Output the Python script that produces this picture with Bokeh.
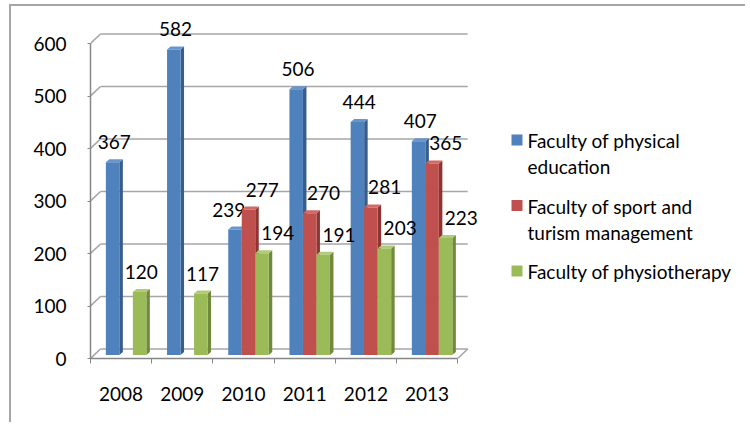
from bokeh.plotting import figure
from bokeh.models import FixedTicker, ColumnDataSource, Range1d
from bokeh.core.properties import value
from bokeh.embed import file_html
from bokeh.resources import INLINE

# ---------------- data ----------------
years = ["2008", "2009", "2010", "2011", "2012", "2013"]
physical_education = [367, 582, 239, 506, 444, 407]
sport_turism = [None, None, 277, 270, 281, 365]
physiotherapy = [120, 117, 194, 191, 203, 223]
y_ticks = [0, 100, 200, 300, 400, 500, 600]
series_labels = ["Faculty of physical\neducation",
                 "Faculty of sport and\nturism management",
                 "Faculty of physiotherapy"]

# ---------------- styles ----------------
front_colors = ["#4F81BD", "#C0504D", "#9BBB59"]
side_colors = ["#375D8C", "#8E3533", "#6F8A3C"]
top_colors = ["#6A95CB", "#D06A66", "#B0CB78"]
FONT = "Lato"
FS = "19px"

OX, OY = 11, 6                 # page position of figure content
W, H = 736, 418
AXIS_X, AXIS_Y = 90, 358        # page position of the value-0 / first category corner
LEFT = AXIS_X - OX
BOTTOM = OY + H - AXIS_Y
TOP = 6
frame_w = W - LEFT
frame_h = H - TOP - BOTTOM
PX_X = 61.2     # pixels per category
PX_Y = 0.525    # pixels per value unit


def ux(px):
    return px / PX_X


def uy(px):
    return px / PX_Y


def page_x(px):
    return (px - AXIS_X) / PX_X


def page_y(py):
    return (AXIS_Y - py) / PX_Y


ncat = len(years)
DX, DY = ux(10), uy(9.5)          # chart depth
BAR_W = ux(13.5)
SDX, SDY = ux(3.5), uy(3)         # bar depth
MIDX = ux(5)                      # bars sit at mid depth

p = figure(width=W, height=H, output_backend="svg", toolbar_location=None,
           x_range=Range1d(0, frame_w / PX_X), y_range=Range1d(0, frame_h / PX_Y),
           min_border_left=LEFT, min_border_top=TOP, min_border_bottom=BOTTOM,
           min_border_right=0)
p.styles = {"margin-left": "9px", "margin-top": "4px",
            "border-top": "2px solid #a6a6a6", "border-left": "2px solid #a6a6a6"}
p.xgrid.visible = False
p.ygrid.visible = False
p.outline_line_color = None
p.background_fill_color = "white"
p.border_fill_color = "white"

# ---------------- 3D walls / gridlines ----------------
gx0, gy0, gx1, gy1 = [], [], [], []
for v in y_ticks:
    gx0.append(DX); gy0.append(v + DY); gx1.append(ncat + DX); gy1.append(v + DY)
    gx0.append(0); gy0.append(v); gx1.append(DX); gy1.append(v + DY)
gx0.append(ncat); gy0.append(0); gx1.append(ncat + DX); gy1.append(DY)
p.segment(gx0, gy0, gx1, gy1, line_color="#a6a6a6", line_width=1.6)

# ---------------- bars ----------------
series = [physical_education, sport_turism, physiotherapy]
base = uy(3.5)
for si, vals in enumerate(series):
    lefts, rights, bottoms, tops = [], [], [], []
    sxs, sys_, txs, tys = [], [], [], []
    lx, ly, lt = [], [], []
    for ci, v in enumerate(vals):
        if v is None:
            continue
        cx = ci + 0.5 + MIDX + (si - 1) * BAR_W
        x0, x1 = cx - BAR_W / 2, cx + BAR_W / 2
        b, t = base, v + base
        lefts.append(x0); rights.append(x1); bottoms.append(b); tops.append(t)
        sxs.append([x1, x1 + SDX, x1 + SDX, x1])
        sys_.append([b, b + SDY, t + SDY, t])
        txs.append([x0, x0 + SDX, x1 + SDX, x1])
        tys.append([t, t + SDY, t + SDY, t])
        # label offsets (Excel shifts labels in crowded groups)
        off = 0
        red = sport_turism[ci]
        if si == 0 and red is not None and red > v:
            off = -8
        elif si == 1:
            off = 12
        elif si == 2 and red is not None:
            off = 14
        lx.append(cx + SDX / 2 + ux(off)); ly.append(t + SDY); lt.append(str(v))
    p.patches(sxs, sys_, fill_color=side_colors[si], line_color=None)
    p.patches(txs, tys, fill_color=top_colors[si], line_color=None)
    p.quad(left=lefts, right=rights, bottom=bottoms, top=tops,
           fill_color=front_colors[si], line_color=None)
    p.text(lx, ly, lt, text_font=value(FONT), text_font_size=FS, text_color="black",
           text_align="center", text_baseline="middle", y_offset=-17)

# ---------------- legend (drawn, to keep Excel's multi-line layout) ----------------
for si, lab in enumerate(series_labels):
    top_px = 134 + si * 65.5
    p.quad(left=[page_x(511)], right=[page_x(522)], top=[page_y(top_px)],
           bottom=[page_y(top_px + 11)], fill_color=front_colors[si], line_color=None)
    lines = lab.split("\n")
    p.text([page_x(527)] * len(lines),
           [page_y(top_px + 6 + k * 26) for k in range(len(lines))], lines,
           text_font=value(FONT), text_font_size=FS, text_color="black",
           text_align="left", text_baseline="middle")

# ---------------- axes ----------------
ya = p.yaxis[0]
ya.ticker = FixedTicker(ticks=y_ticks)
ya.bounds = (0, y_ticks[-1])
ya.axis_line_color = "#868686"
ya.axis_line_width = 1.5
ya.major_tick_line_color = "#868686"
ya.major_tick_out = 3
ya.major_tick_in = 0
ya.minor_tick_line_color = None
ya.major_label_standoff = 21
ya.major_label_text_font = FONT
ya.major_label_text_font_size = FS
ya.major_label_text_color = "black"

xa = p.xaxis[0]
xa.ticker = FixedTicker(ticks=[i + 0.5 for i in range(ncat)],
                        minor_ticks=list(range(ncat + 1)))
xa.major_label_overrides = {i + 0.5: y for i, y in enumerate(years)}
xa.bounds = (0, ncat)
xa.axis_line_color = "#868686"
xa.axis_line_width = 1.5
xa.major_tick_line_color = None
xa.minor_tick_line_color = "#868686"
xa.minor_tick_out = 5
xa.minor_tick_in = 0
xa.major_label_standoff = 22
xa.major_label_text_font = FONT
xa.major_label_text_font_size = FS
xa.major_label_text_color = "black"

open("out.html", "w").write(file_html(p, INLINE))
